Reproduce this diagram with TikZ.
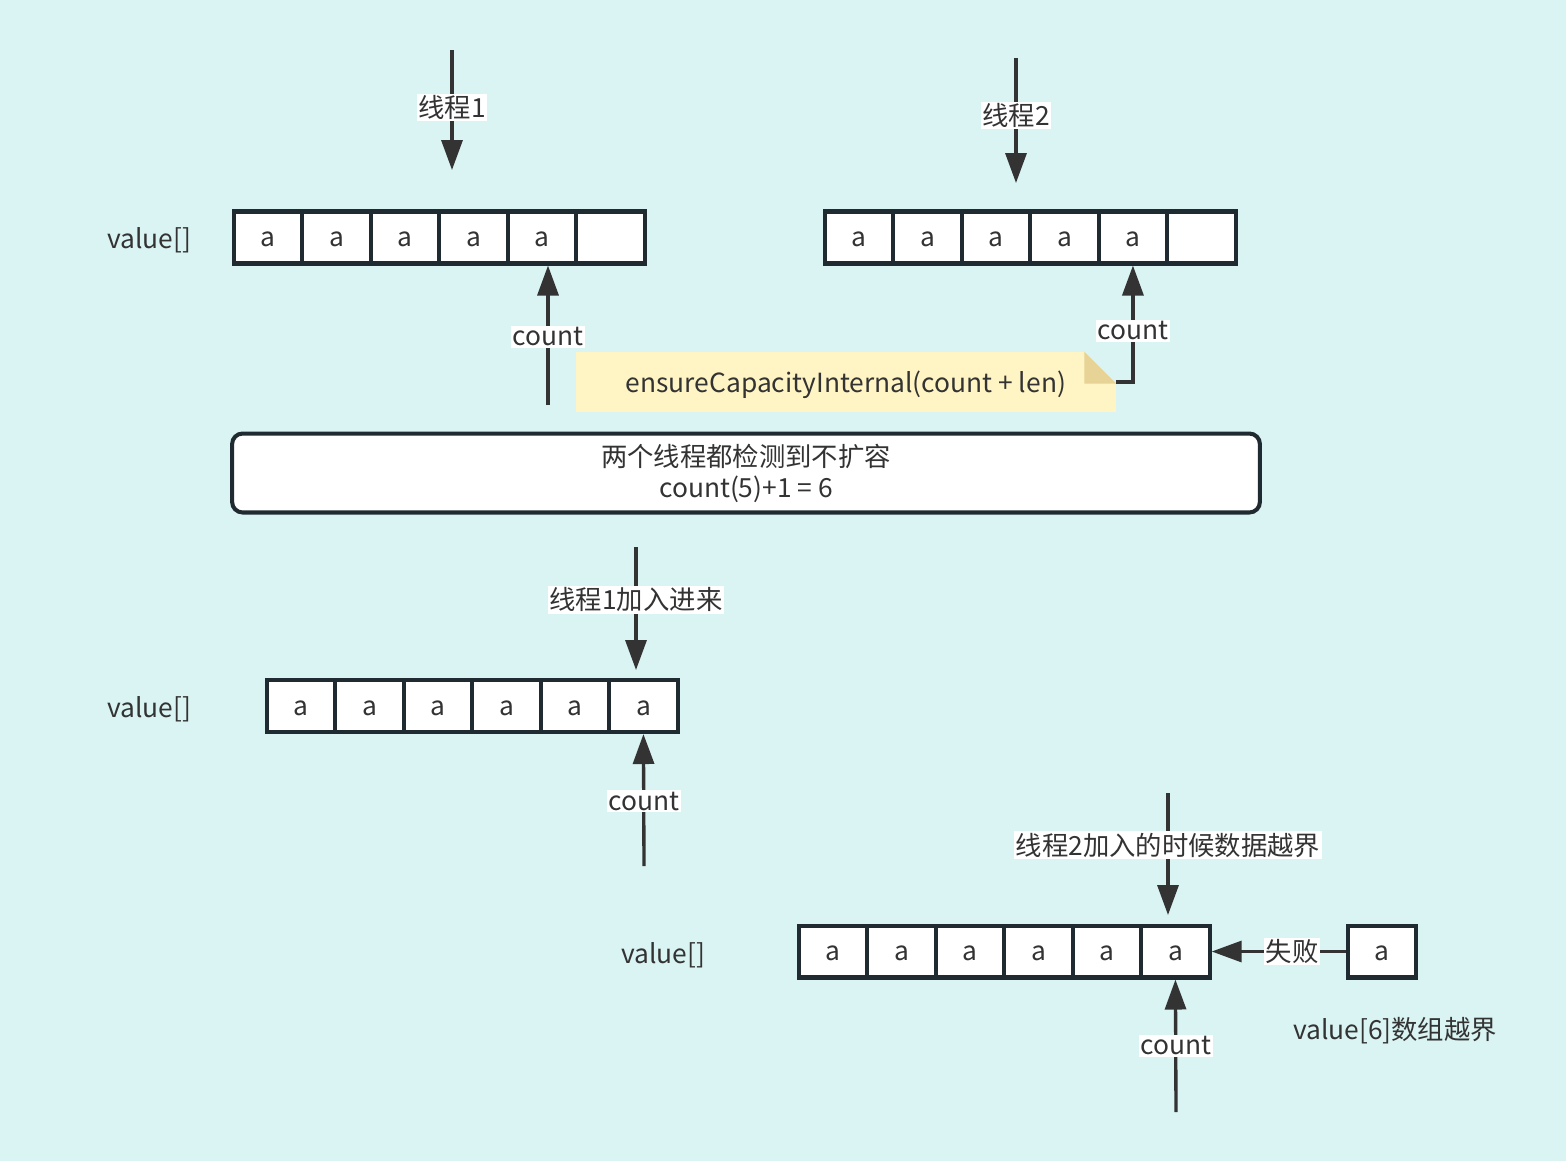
\documentclass[tikz,border=0pt]{standalone}
\usepackage{fontspec}
\setmainfont{Noto Sans CJK SC}
\usetikzlibrary{arrows.meta}
\definecolor{bgc}{HTML}{DAF4F3}
\definecolor{cellc}{HTML}{1F2A31}
\definecolor{arrc}{HTML}{333333}
\definecolor{txtc}{HTML}{333333}
\definecolor{notec}{HTML}{FFF4C3}
\definecolor{foldc}{HTML}{E6D395}
\tikzstyle{cell} = [rectangle, minimum width=1.37cm, minimum height=1.04cm, draw=cellc, line width=2.3pt, fill=white, text=txtc, text height=2ex, text depth=0.1ex, font=\fontsize{15}{18}\selectfont]
\tikzstyle{bigbox} = [rectangle, rounded corners=6pt, minimum width=20.56cm, minimum height=1.58cm, draw=cellc, line width=2.3pt, fill=white, text=txtc, align=center, font=\fontsize{15}{17.6}\selectfont]
\tikzstyle{notebox} = [rectangle, minimum width=10.8cm, minimum height=1.2cm, fill=notec, text=txtc, text height=12pt, text depth=0pt, font=\fontsize{15}{18}\selectfont]
\tikzstyle{arrow} = [line width=1.9pt, draw=arrc, ->, >={Triangle[width=0.42cm,length=0.6cm]}]
\tikzstyle{lbl} = [fill=white, inner sep=1pt, text=txtc, font=\fontsize{15}{18}\selectfont]
\tikzstyle{plain} = [text=txtc, font=\fontsize{15}{18}\selectfont]

\begin{document}
\begin{tikzpicture}[x=0.02cm, y=-0.02cm, node distance=1.37cm]
\fill[bgc] (0,0) rectangle (1566,1161);
\useasboundingbox (0,0) rectangle (1566,1161);

\node (v1) [plain] at (149,240) {value[]};
\node (a1) [cell] at (268,237.5) {a};
\node (a2) [cell, right of=a1] {a};
\node (a3) [cell, right of=a2] {a};
\node (a4) [cell, right of=a3] {a};
\node (a5) [cell, right of=a4] {a};
\node (a6) [cell, right of=a5] {};

\node (b1) [cell] at (859,237.5) {a};
\node (b2) [cell, right of=b1] {a};
\node (b3) [cell, right of=b2] {a};
\node (b4) [cell, right of=b3] {a};
\node (b5) [cell, right of=b4] {a};
\node (b6) [cell, right of=b5] {};

\node (note) [notebox] at (846,382) {ensureCapacityInternal(count + len)};
\fill[bgc] (note.north east) -- ++(-32,0) -- ++(32,32) -- cycle;
\fill[foldc] (note.north east) ++(-32,0) -- ++(0,32) -- ++(32,0) -- cycle;

\node (check) [bigbox] at (746,473) {两个线程都检测到不扩容\\count(5)+1 = 6};

\node (v2) [plain] at (149,709) {value[]};
\node (m1) [cell] at (301,706) {a};
\node (m2) [cell, right of=m1] {a};
\node (m3) [cell, right of=m2] {a};
\node (m4) [cell, right of=m3] {a};
\node (m5) [cell, right of=m4] {a};
\node (m6) [cell, right of=m5] {a};

\node (v3) [plain] at (663,955) {value[]};
\node (n1) [cell] at (833,951.5) {a};
\node (n2) [cell, right of=n1] {a};
\node (n3) [cell, right of=n2] {a};
\node (n4) [cell, right of=n3] {a};
\node (n5) [cell, right of=n4] {a};
\node (n6) [cell, right of=n5] {a};
\node (extra) [cell] at (1382,951.5) {a};
\node (oob) [plain] at (1395,1031) {value[6]数组越界};

\coordinate (t1s) at (452,50);
\coordinate (t1e) at (452,170);
\coordinate (t2s) at (1016,58);
\coordinate (t2e) at (1016,183);
\coordinate (c1s) at (548,405);
\coordinate (t3s) at (636,547);
\coordinate (t3e) at (636,670);
\coordinate (c3s) at (644,866);
\coordinate (t4s) at (1168,793);
\coordinate (t4e) at (1168,915);
\coordinate (c4s) at (1176,1112);

\draw [arrow] (t1s) -- node[lbl, pos=0.48] {线程1} (t1e);
\draw [arrow] (t2s) -- node[lbl, pos=0.46] {线程2} (t2e);
\draw [arrow] (c1s) -- node[lbl, pos=0.49] {count} (c1s |- a5.south);
\draw [arrow] (note.east) -| node[lbl, pos=0.72] {count} (b5.south);
\draw [arrow] (t3s) -- node[lbl, pos=0.43] {线程1加入进来} (t3e);
\draw [arrow] (c3s) -- node[lbl, pos=0.49] {count} (m6.south);
\draw [arrow] (t4s) -- node[lbl, pos=0.43] {线程2加入的时候数据越界} (t4e);
\draw [arrow] (c4s) -- node[lbl, pos=0.5] {count} (n6.south);
\draw [arrow] (extra) -- node[lbl, pos=0.4] {失败} (n6);
\end{tikzpicture}
\end{document}
